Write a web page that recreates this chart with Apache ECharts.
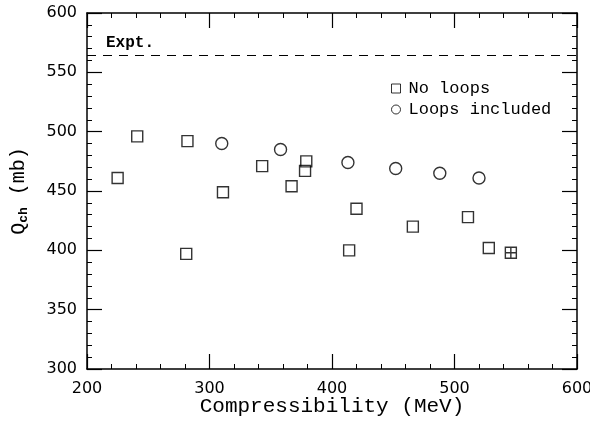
<!DOCTYPE html>
<html><head><meta charset="utf-8">
<script src="https://cdn.jsdelivr.net/npm/echarts@6/dist/echarts.min.js"></script>
<style>html,body{margin:0;padding:0;background:#fff}#c{width:590px;height:425px}</style>
</head><body><div id="c"></div>
<script>
// No loops (square); last point is the crossed square
const noLoopsX = [225, 241, 282, 281, 311, 343, 367, 378, 379, 414, 420, 466, 511, 528];
const noLoopsY = [461, 496, 492, 397, 449, 471, 454, 467, 475, 400, 435, 420, 428, 402];
const crossedX = [546];
const crossedY = [398];
// Loops included (circle)
const loopsX = [310, 358, 413, 452, 488, 520];
const loopsY = [490, 485, 474, 469, 465, 461];
const exptValue = 564;
const xTicks = [200, 300, 400, 500, 600];
const yTicks = [300, 350, 400, 450, 500, 550, 600];

const mono = '"Liberation Mono", "DejaVu Sans Mono", monospace';
const sans = '"DejaVu Sans", sans-serif';
const crossPath = 'path://M0,0H10V10H0Z M5,0V10 M0,5H10';

const noLoops = noLoopsX.map((x, i) => [x, noLoopsY[i]]);
crossedX.forEach((x, i) => noLoops.push({value: [x, crossedY[i]], symbol: crossPath, symbolSize: 11}));
const loops = loopsX.map((x, i) => [x, loopsY[i]]);

function axisCommon(showLabel) {
  return {
    axisLine: {show: true, onZero: false, lineStyle: {color: '#000', width: 1.5}},
    axisTick: {show: true, inside: true, length: 15, lineStyle: {color: '#000', width: 1.2}},
    minorTick: {show: true, splitNumber: 5, length: 5, lineStyle: {color: '#000', width: 1}},
    splitLine: {show: false},
    axisLabel: {show: showLabel, color: '#000', fontFamily: sans, fontSize: 16}
  };
}

const chart = echarts.init(document.getElementById('c'), null, {renderer: 'canvas'});
chart.setOption({
  animation: false,
  backgroundColor: '#fff',
  grid: {left: 87, right: 13, top: 13, bottom: 56, containLabel: false, outerBoundsMode: 'none'},
  xAxis: [
    Object.assign(axisCommon(true), {
      type: 'value', min: xTicks[0], max: xTicks[xTicks.length - 1], interval: 100, position: 'bottom',
      name: 'Compressibility (MeV)', nameLocation: 'middle', nameGap: 27, nameMoveOverlap: false,
      nameTextStyle: {color: '#000', fontFamily: mono, fontSize: 21, verticalAlign: 'top'},
      axisLabel: {show: true, color: '#000', fontFamily: sans, fontSize: 16, margin: 12}
    }),
    Object.assign(axisCommon(false), {
      type: 'value', min: xTicks[0], max: xTicks[xTicks.length - 1], interval: 100, position: 'top'
    })
  ],
  yAxis: [
    Object.assign(axisCommon(true), {
      type: 'value', min: yTicks[0], max: yTicks[yTicks.length - 1], interval: 50, position: 'left',
      name: '{q|Q}{s|ch}{q| (mb)}', nameLocation: 'middle', nameGap: 57, nameRotate: 90,
      nameTextStyle: {color: '#000', rich: {
        q: {fontFamily: mono, fontSize: 20, color: '#000'},
        s: {fontFamily: mono, fontSize: 13, color: '#000', fontWeight: 'bold', verticalAlign: 'bottom', padding: [9, 0, 0, 0]}
      }},
      axisLabel: {show: true, color: '#000', fontFamily: sans, fontSize: 16, margin: 10}
    }),
    Object.assign(axisCommon(false), {
      type: 'value', min: yTicks[0], max: yTicks[yTicks.length - 1], interval: 50, position: 'right'
    })
  ],
  legend: {
    orient: 'vertical', left: 386, top: 75, itemGap: 4, itemWidth: 9, itemHeight: 9,
    textStyle: {color: '#000', fontFamily: mono, fontSize: 17, padding: [0, 0, 0, 3]},
    data: [
      {name: 'No loops', icon: 'rect', itemStyle: {color: '#fff', borderColor: '#000', borderWidth: 1}},
      {name: 'Loops included', icon: 'circle', itemStyle: {color: '#fff', borderColor: '#000', borderWidth: 1}}
    ]
  },
  series: [
    {
      name: 'No loops', type: 'scatter', symbol: 'rect', symbolSize: 11,
      itemStyle: {color: 'rgba(255,255,255,0)', borderColor: '#000', borderWidth: 1.4},
      data: noLoops,
      markLine: {
        silent: true, symbol: 'none',
        lineStyle: {color: '#000', type: [9, 7], width: 1.2},
        label: {show: true, position: 'insideStartTop', formatter: 'Expt.', color: '#000',
                fontFamily: mono, fontSize: 16, fontWeight: 'bold', padding: [0, 0, 0, 14]},
        data: [{yAxis: exptValue}]
      }
    },
    {
      name: 'Loops included', type: 'scatter', symbol: 'circle', symbolSize: 12,
      itemStyle: {color: 'rgba(255,255,255,0)', borderColor: '#000', borderWidth: 1.4},
      data: loops
    }
  ]
});
</script></body></html>
